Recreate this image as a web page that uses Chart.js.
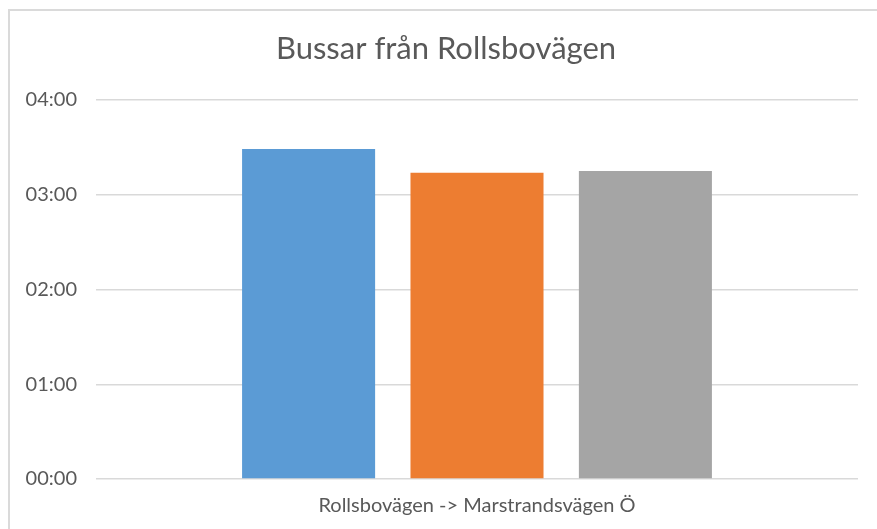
<!DOCTYPE html>
<html>
<head>
<meta charset="utf-8">
<script src="https://cdn.jsdelivr.net/npm/chart.js@4"></script>
<style>
  html, body { margin: 0; padding: 0; background: #fff; }
  #wrap { position: relative; width: 877px; height: 529px; overflow: hidden; }
  #frame { position: absolute; left: 8px; top: 9px; width: 900px; height: 600px;
           border-left: 2px solid #dadada; border-top: 2px solid #dadada; box-sizing: border-box; }
  canvas { position: absolute; left: 0; top: 0; }
</style>
</head>
<body>
<div id="wrap">
  <div id="frame"></div>
  <canvas id="c" width="877" height="529"></canvas>
</div>
<script>
// Data (values in minutes, displayed as hh:mm)
const categories = ["Rollsbovägen -> Marstrandsvägen Ö"];
const seriesNames = ["Serie 1", "Serie 2", "Serie 3"];
const seriesValues = [[209], [194], [195]];
const seriesColors = ["#5B9BD5", "#ED7D31", "#A5A5A5"];
const tickLabels = ["00:00", "01:00", "02:00", "03:00", "04:00"];

const FONT = "Lato, 'Open Sans', sans-serif";
const TEXT = "#595959";

// shift the title box so it is centred on the whole chart frame
const titleShift = {
  id: "titleShift",
  afterLayout(chart) {
    if (chart.titleBlock) chart.titleBlock.left += 24;
  }
};

new Chart(document.getElementById("c"), {
  type: "bar",
  data: {
    labels: categories,
    datasets: seriesNames.map((n, i) => ({
      label: n,
      data: seriesValues[i],
      backgroundColor: seriesColors[i],
      borderWidth: 0,
      categoryPercentage: 0.663,
      barPercentage: 0.79
    }))
  },
  plugins: [titleShift],
  options: {
    responsive: false,
    animation: false,
    devicePixelRatio: 1,
    layout: { padding: { left: 10, right: 19, top: 30.4, bottom: 0 } },
    plugins: {
      legend: { display: false },
      tooltip: { enabled: false },
      title: {
        display: true,
        text: "Bussar från Rollsbovägen",
        color: TEXT,
        font: { family: FONT, size: 31, weight: "normal" },
        padding: { top: 0, bottom: 32.4 }
      }
    },
    scales: {
      x: {
        grid: { display: false, drawTicks: false },
        border: { display: false },
        ticks: { color: TEXT, font: { family: FONT, size: 20 }, padding: 15 },
        afterFit: (s) => { s.height = 50; }
      },
      y: {
        min: 0, max: 240,
        border: { display: false },
        grid: { color: "#d9d9d9", lineWidth: 1.5, drawTicks: false },
        ticks: {
          stepSize: 60,
          color: TEXT,
          font: { family: FONT, size: 20 },
          padding: 19,
          callback: (v) => tickLabels[Math.round(v / 60)]
        },
        afterFit: (s) => { s.width = 86; }
      }
    }
  }
});
</script>
</body>
</html>
